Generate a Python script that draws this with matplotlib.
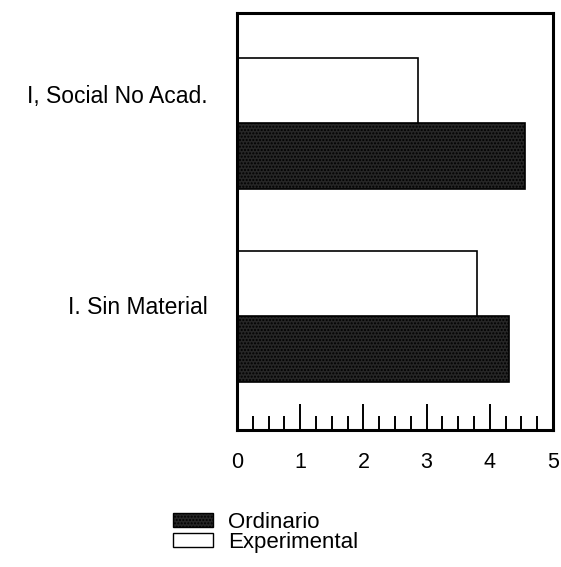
import matplotlib.pyplot as plt
import matplotlib.patches as mpatches
import numpy as np

plt.rcParams['font.family'] = ['Liberation Sans', 'DejaVu Sans']

categories = ["I. Sin Material", "I, Social No Acad."]
ordinario = [4.30, 4.56]
experimental = [3.79, 2.86]
label_pos = [0.06, 1.15]


def graph():
    fig = plt.figure(figsize=(5.61, 5.67), dpi=100)
    ax = fig.add_axes([0.4225, 0.2416, 0.5633, 0.735])
    y = np.arange(len(categories))
    h = 0.34
    ax.barh(y - h / 2, ordinario, height=h, color='#262626', edgecolor='black',
            linewidth=1.2, hatch='.....', label="Ordinario")
    ax.barh(y + h / 2, experimental, height=h, color='white', edgecolor='black',
            linewidth=1.2, label="Experimental")
    ax.set_xlim(0, 5)
    ax.set_ylim(-0.59, 1.57)
    ax.set_xticks(range(6))
    ax.set_xticks(np.arange(0, 5.01, 0.25), minor=True)
    ax.tick_params(axis='x', which='major', direction='in', length=19, width=1.4,
                   labelsize=15.5, pad=16)
    ax.tick_params(axis='x', which='minor', direction='in', length=10, width=1.4)
    ax.set_yticks(label_pos)
    ax.set_yticklabels(categories, fontsize=16.5)
    ax.tick_params(axis='y', length=0, pad=21)
    for s in ax.spines.values():
        s.set_linewidth(2.2)

    handles = [mpatches.Patch(facecolor='#262626', edgecolor='black', hatch='.....', label="Ordinario"),
               mpatches.Patch(facecolor='white', edgecolor='black', label="Experimental")]
    fig.legend(handles=handles, loc='upper left', bbox_to_anchor=(0.288, 0.117),
               frameon=False, fontsize=16, handlelength=1.8, handleheight=0.63,
               handletextpad=0.7, labelspacing=-0.05, borderpad=0)
    fig.savefig("out.png", dpi=100)


if __name__ == '__main__':
    graph()
